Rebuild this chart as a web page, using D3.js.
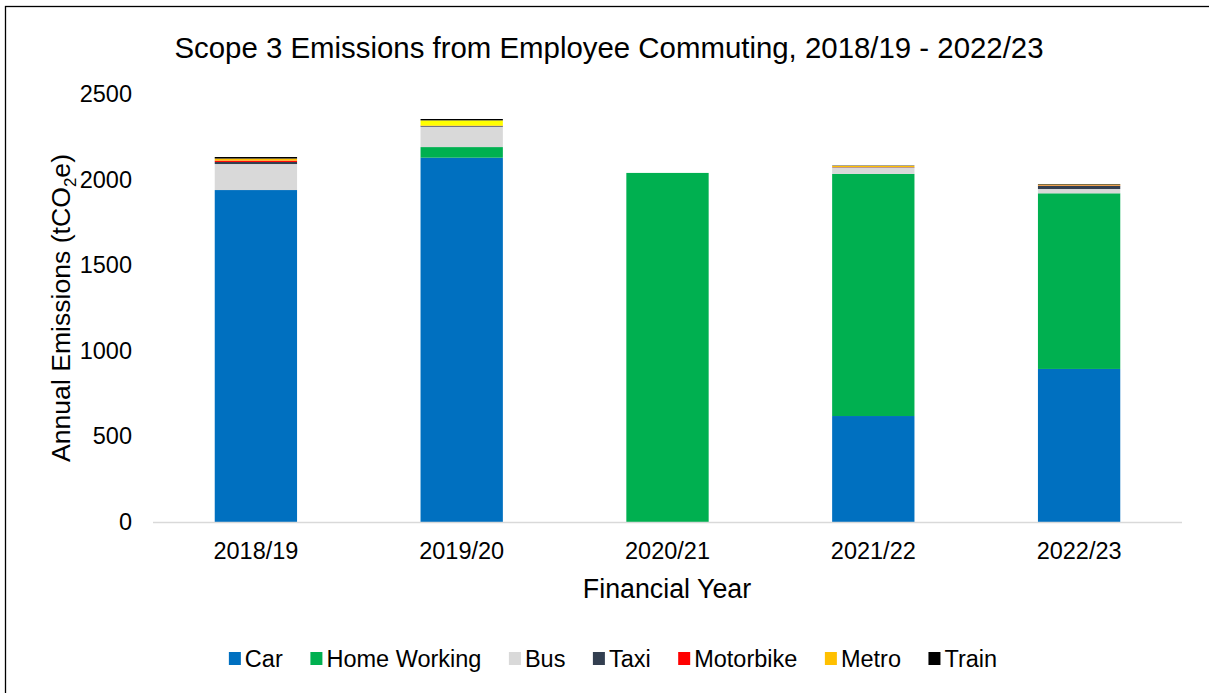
<!DOCTYPE html>
<html>
<head>
<meta charset="utf-8">
<script src="https://cdn.jsdelivr.net/npm/d3@7"></script>
<style>
  html, body { margin: 0; padding: 0; background: #fff; }
  svg { display: block; font-family: "Liberation Sans", Arial, sans-serif; }
</style>
</head>
<body>
<svg id="chart" width="1209" height="693"></svg>
<script>
const years = ["2018/19", "2019/20", "2020/21", "2021/22", "2022/23"];
const seriesNames = ["Car", "Home Working", "Bus", "Taxi", "Motorbike", "Metro", "Train"];
const seriesColors = ["#0070C0", "#00B050", "#D9D9D9", "#333F50", "#FF0000", "#FFC000", "#000000"];
const car         = [1939, 2128,    0,  619,  894];
const homeWorking = [   0,   62, 2039, 1414, 1026];
const bus         = [ 152,  119,    0,   37,   25];
const taxi        = [  12,    4,    0,    2,   19];
const motorbike   = [   8,    2,    0,    1,    2];
const metro       = [  12,   31,    0,    7,    5];
const train       = [   9,    8,    0,    2,    3];
const yTicks = [0, 500, 1000, 1500, 2000, 2500];
const title = "Scope 3 Emissions from Employee Commuting, 2018/19 - 2022/23";
const xTitle = "Financial Year";

const seriesValues = [car, homeWorking, bus, taxi, motorbike, metro, train];
const table = years.map((y, i) => {
  const row = { year: y };
  seriesNames.forEach((s, k) => row[s] = seriesValues[k][i]);
  return row;
});

const svg = d3.select("#chart");
const W = 1209, H = 693;
const margin = { left: 153, right: 27, top: 94, bottom: 171 };
const plotW = W - margin.left - margin.right;
const plotH = H - margin.top - margin.bottom;

// outer frame
svg.append("rect").attr("x", 5.5).attr("y", 6.5).attr("width", 1220).attr("height", 720)
  .attr("fill", "none").attr("stroke", "#000").attr("stroke-width", 1.3);

const x = d3.scaleBand().domain(years).range([margin.left, margin.left + plotW]).paddingInner(0.6).paddingOuter(0.3);
const y = d3.scaleLinear().domain([0, 2500]).range([margin.top + plotH, margin.top]);
const color = d3.scaleOrdinal().domain(seriesNames).range(seriesColors);

const stacked = d3.stack().keys(seriesNames)(table);

// bars
const g = svg.append("g");
stacked.forEach(layer => {
  g.selectAll(null).data(layer).enter().append("rect")
    .attr("x", d => x(d.data.year))
    .attr("width", x.bandwidth())
    .attr("y", d => y(d[1]))
    .attr("height", d => Math.max(0, y(d[0]) - y(d[1])))
    .attr("fill", d => (layer.key === "Metro" && d.data.year === "2019/20") ? "#FFFF00" : color(layer.key));
});

// x axis line
svg.append("line").attr("x1", margin.left).attr("x2", margin.left + plotW)
  .attr("y1", y(0) + 0.5).attr("y2", y(0) + 0.5).attr("stroke", "#D9D9D9").attr("stroke-width", 1.3);

// x labels
const xAxis = d3.axisBottom(x).tickSize(0).tickPadding(0);
const xg = svg.append("g").attr("transform", `translate(0,${y(0)})`).call(xAxis);
xg.select(".domain").remove();
xg.selectAll("text").attr("font-size", 23.5).attr("fill", "#000").attr("dy", null).attr("y", 37)
  .style("font-family", "'Liberation Sans', Arial, sans-serif");

// y labels
const yAxis = d3.axisLeft(y).tickValues(yTicks).tickFormat(d3.format("d")).tickSize(0).tickPadding(0);
const yg = svg.append("g").attr("transform", `translate(132,0)`).call(yAxis);
yg.select(".domain").remove();
yg.selectAll("text").attr("font-size", 23.5).attr("fill", "#000")
  .style("font-family", "'Liberation Sans', Arial, sans-serif");

// title
svg.append("text").attr("x", 609).attr("y", 58).attr("text-anchor", "middle")
  .attr("font-size", 29.4).attr("fill", "#000").text(title);

// x title
svg.append("text").attr("x", 667).attr("y", 598).attr("text-anchor", "middle")
  .attr("font-size", 26.8).attr("fill", "#000").text(xTitle);

// y title
const yt = svg.append("text").attr("transform", "translate(70,308) rotate(-90)")
  .attr("text-anchor", "middle").attr("font-size", 26.6).attr("fill", "#000");
yt.append("tspan").text("Annual Emissions (tCO");
yt.append("tspan").attr("font-size", 17).attr("dy", 6).text("2");
yt.append("tspan").attr("dy", -6).text("e)");

// legend
const lg = svg.append("g");
const items = lg.selectAll("g").data(seriesNames).enter().append("g");
items.append("rect").attr("width", 12).attr("height", 13).attr("y", -15).attr("fill", d => color(d));
items.append("text").attr("x", 16).attr("y", 0).attr("font-size", 23.5).attr("fill", "#000").text(d => d);
let cx = 0;
const gap = 27.5;
items.each(function() {
  const w = this.getBBox().width;
  d3.select(this).attr("transform", `translate(${cx},0)`);
  cx += w + gap;
});
const total = cx - gap;
lg.attr("transform", `translate(${613 - total / 2},667)`);
</script>
</body>
</html>
